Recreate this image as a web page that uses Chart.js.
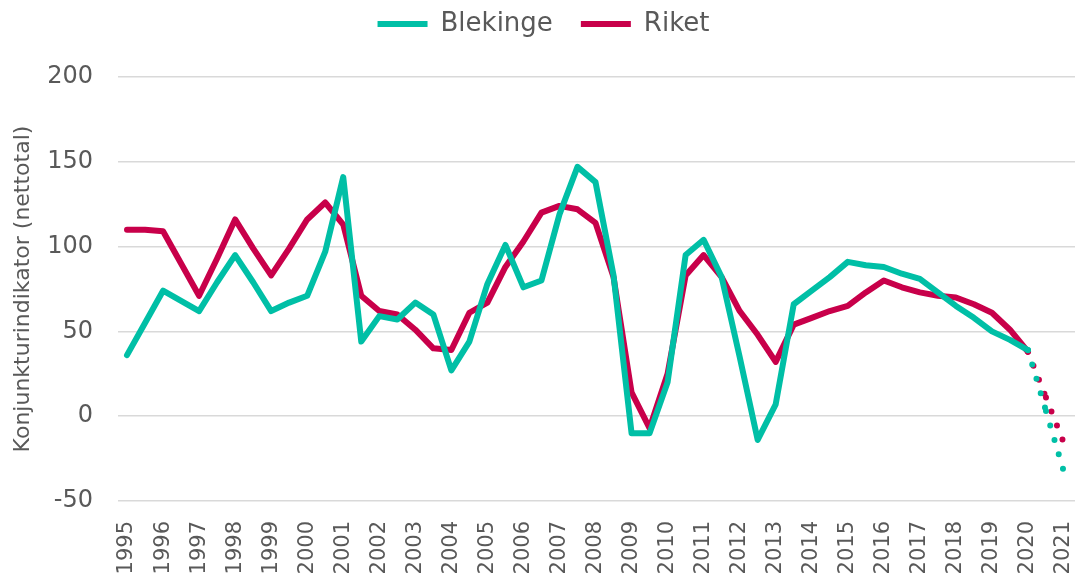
<!DOCTYPE html>
<html>
<head>
<meta charset="utf-8">
<script src="https://cdn.jsdelivr.net/npm/chart.js@4.4.1/dist/chart.umd.min.js"></script>
<style>
html,body{margin:0;padding:0;background:#ffffff;}
#wrap{width:1076px;height:575px;position:relative;}
</style>
</head>
<body>
<div id="wrap"><canvas id="c"></canvas></div>
<script>
// Tick labels (whole years); data are half-yearly, starting 1995
const years = ['1995','1996','1997','1998','1999','2000','2001','2002','2003','2004','2005','2006','2007','2008','2009','2010','2011','2012','2013','2014','2015','2016','2017','2018','2019','2020','2021'];
const startYear = 1995;
const stepPerPoint = 0.5;
const seriesNames = ['Blekinge', 'Riket'];

// Half-yearly values 1995 .. 2021
const blekinge = [36,55,74,68,62,79,95,79,62,67,71,97,141,44,59,57,67,60,27,44,78,101,76,80,119,147,138,83,-10,-10,20,95,104,82,35,-14,7,66,74,82,91,89,88,84,81,73,65,58,50,45,39,3,-33];
const riket    = [110,110,109,90,71,93,116,99,83,99,116,126,113,71,62,60,51,40,39,61,67,88,103,120,124,122,114,82,14,-7,25,83,95,82,62,48,32,54,58,62,65,73,80,76,73,71,70,66,61,51,38,11,-16];
// index from which the forecast (dotted) part starts (2020)
const forecastFrom = 50;

const yTicks = [-50, 0, 50, 100, 150, 200];

const colors = ['#00BFA6', '#C8004A'];
const textColor = '#595959';
const FONT = "'DejaVu Sans', sans-serif";

function toPoints(vals){
  return vals.map((v,i)=>({x: startYear + i*stepPerPoint, y: v}));
}

function makeDataset(label, vals, color){
  return {
    label: label,
    data: toPoints(vals),
    borderColor: color,
    backgroundColor: color,
    borderWidth: 6,
    borderCapStyle: 'round',
    borderJoinStyle: 'round',
    pointRadius: 0,
    pointHoverRadius: 0,
    tension: 0,
    fill: false,
    segment: {
      borderDash: ctx => {
        if (ctx.p0DataIndex >= forecastFrom) {
          // slightly different dash per segment so each segment restarts its pattern
          return [0, 15 + (ctx.p0DataIndex - forecastFrom) * 0.001];
        }
        return undefined;
      }
    }
  };
}

const legendShift = {
  id: 'legendShift',
  afterInit(chart){
    const lg = chart.legend;
    if (!lg) return;
    const origFit = lg.fit;
    lg.fit = function(){
      origFit.apply(this, arguments);
      this.height = 77;
    };
    const origDraw = lg.draw;
    lg.draw = function(){
      const ctx = this.ctx;
      ctx.save();
      ctx.translate(6, -17);
      origDraw.apply(this, arguments);
      ctx.restore();
    };
  }
};

new Chart(document.getElementById('c'), {
  type: 'line',
  data: {
    datasets: [
      makeDataset(seriesNames[0], blekinge, colors[0]),
      makeDataset(seriesNames[1], riket, colors[1])
    ]
  },
  options: {
    responsive: true,
    maintainAspectRatio: false,
    animation: false,
    devicePixelRatio: 1,
    layout: { padding: { top: 0, right: 1, left: 0, bottom: 0 } },
    plugins: {
      legend: {
        position: 'top',
        align: 'center',
        labels: {
          usePointStyle: true,
          pointStyle: 'line',
          pointStyleWidth: 50,
          color: textColor,
          font: { family: FONT, size: 26 },
          padding: 28
        }
      },
      tooltip: { enabled: false }
    },
    scales: {
      x: {
        type: 'linear',
        min: startYear - 0.25,
        max: +years[years.length-1] + 0.305,
        grid: { display: false },
        border: { display: false },
        afterBuildTicks(scale){
          scale.ticks = years.map(y => ({ value: +y }));
        },
        afterFit(scale){
          scale.height = 74;
          scale.paddingLeft = 0;
          scale.paddingRight = 0;
        },
        ticks: {
          autoSkip: false,
          minRotation: 90,
          maxRotation: 90,
          padding: 12,
          color: textColor,
          font: { family: FONT, size: 21 },
          callback: v => String(v)
        }
      },
      y: {
        min: yTicks[0],
        max: yTicks[yTicks.length-1],
        afterBuildTicks(scale){
          scale.ticks = yTicks.map(v => ({ value: v }));
        },
        afterFit(scale){
          scale.width = 118;
          scale.paddingTop = 0;
          scale.paddingBottom = 0;
        },
        grid: { color: '#D9D9D9', lineWidth: 1.5, drawTicks: false },
        border: { display: false },
        ticks: {
          padding: 25,
          color: textColor,
          font: { family: FONT, size: 24 }
        },
        title: {
          display: true,
          text: 'Konjunkturindikator (nettotal)',
          color: textColor,
          font: { family: FONT, size: 22 },
          padding: { top: 10, bottom: 0 }
        }
      }
    }
  },
  plugins: [legendShift]
});
</script>
</body>
</html>
